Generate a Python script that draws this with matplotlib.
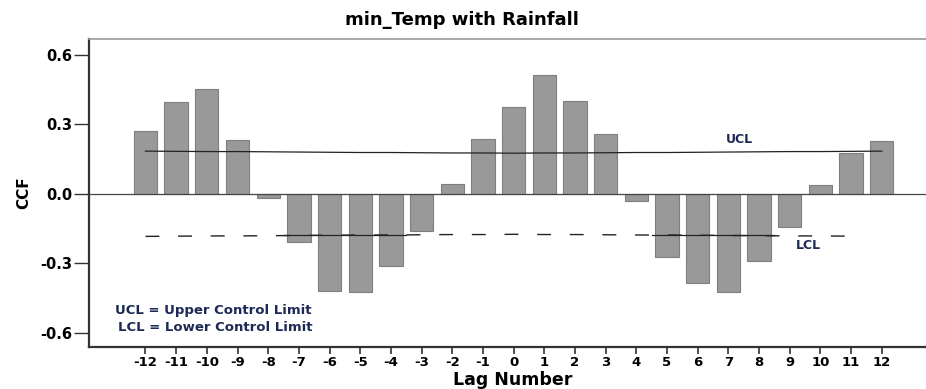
import numpy as np
import matplotlib
matplotlib.use('Agg')
import matplotlib.pyplot as plt

# cross-correlation of min temperature with rainfall, lags -12..12
lags = list(range(-12, 13))
ccf = [0.270, 0.398, 0.453, 0.231, -0.019, -0.209, -0.421, -0.426, -0.310,
       -0.159, 0.043, 0.236, 0.374, 0.513, 0.402, 0.257, -0.033, -0.274,
       -0.387, -0.423, -0.292, -0.144, 0.037, 0.174, 0.229]
# upper confidence limit per lag (lower limit is its mirror)
ucl = [0.184, 0.183, 0.182, 0.182, 0.181, 0.180, 0.179, 0.178, 0.178, 0.177,
       0.176, 0.176, 0.175, 0.176, 0.176, 0.177, 0.178, 0.178, 0.179, 0.180,
       0.181, 0.182, 0.182, 0.183, 0.184]
lcl = [-u for u in ucl]

ytick_vals = [-0.6, -0.3, 0.0, 0.3, 0.6]

fig = plt.figure(figsize=(9.26, 3.89), dpi=100)
ax = fig.add_axes([0.0958, 0.1087, 0.9161, 0.7903])

ax.bar(lags, ccf, width=0.76, color='#999999', edgecolor='#7f7f7f', linewidth=0.8, zorder=2)
ax.axhline(0, color='#444444', lw=0.9, zorder=3)

# confidence limits
ax.plot(lags, ucl, color='#222222', lw=0.9, zorder=4)
ax.plot(lags[:-1], lcl[:-1], color='#222222', lw=1.0, linestyle=(0, (10, 13.5)), zorder=4)
seg1 = [l for l in lags if -7 <= l <= -4]
seg2 = [l for l in lags if 5 <= l <= 8]
for seg in (seg1, seg2):
    xs = [seg[0] - 0.5, seg[-1] + 0.5]
    yv = np.mean([lcl[lags.index(l)] for l in seg])
    ax.plot(xs, [yv, yv], color='#222222', lw=0.9, zorder=4)

navy = '#1c2a55'
ax.text(7.35, 0.234, 'UCL', color=navy, fontsize=9, fontweight='bold',
        ha='center', va='center')
ax.text(9.6, -0.224, 'LCL', color=navy, fontsize=9, fontweight='bold',
        ha='center', va='center')
ax.text(-13.0, -0.502, 'UCL = Upper Control Limit', color=navy, fontsize=9.5,
        fontweight='bold', ha='left', va='center')
ax.text(-12.9, -0.577, 'LCL = Lower Control Limit', color=navy, fontsize=9.5,
        fontweight='bold', ha='left', va='center')

ax.set_xlim(-13.85, 13.8)
ax.set_ylim(-0.66, 0.6665)
ax.set_xticks(lags)
ax.set_xticklabels([str(l) for l in lags], fontsize=9.5, fontweight='bold')
ax.set_yticks(ytick_vals)
ax.set_yticklabels(['%.1f' % v for v in ytick_vals], fontsize=10.5, fontweight='bold')
ax.tick_params(axis='x', length=5, width=1.2, color='#333333', pad=2)
ax.tick_params(axis='y', length=11, width=1.0, color='#333333', pad=1)

ax.spines['right'].set_visible(False)
ax.spines['top'].set_color('#999999')
ax.spines['top'].set_linewidth(1.2)
for s in ('left', 'bottom'):
    ax.spines[s].set_color('#333333')
    ax.spines[s].set_linewidth(1.6)

ax.set_xlabel('Lag Number', fontsize=12.5, fontweight='bold', labelpad=1)
ax.set_ylabel('CCF', fontsize=11, fontweight='bold', labelpad=6)
fig.text(0.499, 0.948, 'min_Temp with Rainfall', fontsize=13, fontweight='bold',
         ha='center', va='center')

fig.savefig('out.png', dpi=100)
